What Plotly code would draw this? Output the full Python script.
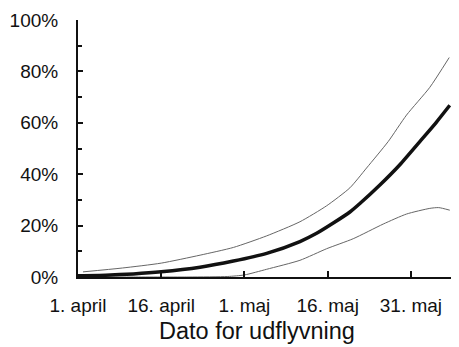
import plotly.graph_objects as go

# Days after 1 April
mean_days = [0, 5, 10, 15, 22, 28, 34, 40, 43, 46, 49, 50.8, 54.4, 58, 61.6, 64.5, 67]
mean_vals = [0.5, 0.7, 1.2, 2.0, 3.8, 6.2, 9.2, 13.8, 17, 21.0, 25.3, 28.6, 35.8, 43.7, 52.7, 60, 66.8]

upper_days = [0.9, 8, 15, 22, 28, 34, 40, 44.8, 49, 52, 55.9, 59.2, 63.4, 66.9]
upper_vals = [2.0, 3.5, 5.4, 8.5, 11.5, 16, 21.5, 27.7, 34.7, 42.4, 52.7, 63, 73.8, 85.4]

lower_days = [0.9, 10, 20, 27, 30, 34, 40, 44.8, 49.6, 55, 59.2, 63.4, 65, 67]
lower_vals = [0, 0, 0, 0.2, 0.8, 3, 6.5, 11, 14.9, 20.6, 24.5, 26.7, 27, 26]

x_tickvals = [0, 15, 30, 45, 60]
x_ticktext = ["1. april", "16. april", "1. maj", "16. maj", "31. maj"]
y_tickvals = [0, 20, 40, 60, 80, 100]
y_ticktext = ["0%", "20%", "40%", "60%", "80%", "100%"]
x_title = "Dato for udflyvning"

FONT = "Liberation Sans, Arial, sans-serif"

fig = go.Figure()
fig.add_trace(go.Scatter(x=upper_days, y=upper_vals, mode="lines",
                         line=dict(color="#666666", width=1, shape="spline", smoothing=0.6),
                         showlegend=False, hoverinfo="skip"))
fig.add_trace(go.Scatter(x=lower_days, y=lower_vals, mode="lines",
                         line=dict(color="#666666", width=1, shape="spline", smoothing=0.6),
                         showlegend=False, hoverinfo="skip"))
fig.add_trace(go.Scatter(x=mean_days, y=mean_vals, mode="lines",
                         line=dict(color="#111111", width=3.5, shape="spline", smoothing=0.6),
                         showlegend=False))

fig.add_annotation(text=x_title, xref="paper", yref="paper", x=0.471, y=0,
                   xanchor="center", yanchor="middle", yshift=-54, showarrow=False,
                   font=dict(size=23.5, family=FONT, color="#111111"))

fig.update_layout(
    width=451, height=339,
    margin=dict(l=70, r=2, t=9, b=70),
    paper_bgcolor="white", plot_bgcolor="white",
    font=dict(family=FONT, color="#111111", size=19),
    xaxis=dict(
        range=[0, 68.3], tickmode="array", tickvals=x_tickvals, ticktext=x_ticktext,
        ticks="inside", ticklen=6, tickwidth=1.5, tickcolor="#111111",
        showline=True, linecolor="#111111", linewidth=2,
        showgrid=False, zeroline=False, ticklabelstandoff=10,
        ticklabeloverflow="allow",
    ),
    yaxis=dict(
        range=[0, 100], tickmode="array", tickvals=y_tickvals, ticktext=y_ticktext,
        ticks="inside", ticklen=5, tickwidth=1.5, tickcolor="#111111",
        minor=dict(tickvals=[10, 30, 50, 70, 90], ticks="inside", ticklen=4,
                   tickwidth=1.5, tickcolor="#111111"),
        showline=True, linecolor="#111111", linewidth=2,
        showgrid=False, zeroline=False, ticklabelstandoff=14,
        ticklabeloverflow="allow",
    ),
)

fig.write_html("out.html")
